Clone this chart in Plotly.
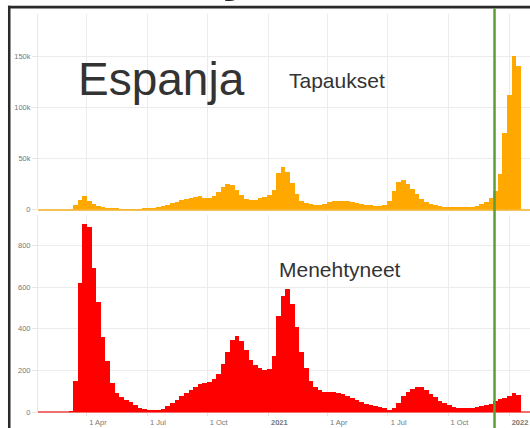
import pandas as pd
import plotly.graph_objects as go
from plotly.subplots import make_subplots

# weekly bins (start dates) for Spain, Jan 2020 - Jan 2022
week_start = pd.date_range("2020-01-22", periods=104, freq="7D")
week_mid = week_start + pd.Timedelta(hours=84)

# new cases per day (weekly level)
cases = [
    0, 0, 0, 0, 0, 0, 300, 4000, 9500, 13000,
    8000, 5000, 3000, 2000, 1200, 800, 500, 400, 350, 300,
    300, 400, 500, 700, 1200, 2000, 3000, 4500, 6000, 7500,
    9000, 10000, 11000, 12500, 13500, 11000, 11500, 13000, 17000, 22000,
    24500, 23500, 19000, 14000, 10500, 9500, 9500, 11000, 12500, 14000,
    19000, 36000, 42000, 37000, 26000, 15000, 8000, 6000, 5000, 4800,
    4800, 5500, 7000, 8000, 8500, 8500, 8000, 7000, 6000, 5000,
    4500, 4000, 3500, 3800, 4000, 8000, 18000, 27000, 29000, 25000,
    20000, 15000, 10500, 7500, 5500, 4000, 3000, 2500, 2200, 2000,
    2000, 2000, 2200, 2500, 3500, 5000, 7500, 11000, 18000, 35000,
    75000, 112000, 150000, 140000,
]

# new deaths per day (weekly level)
deaths = [
    0, 0, 0, 0, 0, 0, 5, 150, 620, 905,
    890, 690, 530, 360, 245, 140, 90, 70, 58, 48,
    35, 20, 14, 10, 9, 10, 16, 28, 42, 58,
    75, 90, 105, 118, 135, 140, 145, 158, 185, 230,
    290, 345, 365, 340, 300, 250, 225, 210, 200, 205,
    270, 460, 560, 590, 520, 410, 290, 210, 150, 120,
    105, 98, 95, 95, 93, 85, 75, 66, 57, 48,
    40, 33, 28, 25, 18, 12, 20, 45, 75, 98,
    112, 120, 118, 105, 88, 70, 55, 42, 32, 25,
    21, 19, 18, 20, 24, 28, 32, 38, 55, 62,
    68, 78, 90, 80,
]

tick_dates = ["2020-04-01", "2020-07-01", "2020-10-01", "2021-01-01",
              "2021-04-01", "2021-07-01", "2021-10-01", "2022-01-01"]
tick_labels = ["1 Apr", "1 Jul", "1 Oct", "<b>2021</b>",
               "1 Apr", "1 Jul", "1 Oct", "<b>2022</b>"]

cases_ticks = [0, 50000, 100000, 150000]
cases_tick_labels = ["0", "50k", "100k", "150k"]
deaths_ticks = [0, 200, 400, 600, 800]
deaths_tick_labels = ["0", "200", "400", "600", "800"]

marker_date = "2021-12-10"
x_range = ["2020-01-17 17:00", "2022-02-01 19:00"]

FONT = "Liberation Sans, Arial, sans-serif"
GRID = "#ececec"

fig = make_subplots(rows=2, cols=1, shared_xaxes=True)
fig.add_trace(go.Bar(x=week_mid, y=cases, width=7 * 86400000,
                     marker=dict(color="#FFA800", line=dict(width=0))),
              row=1, col=1)
fig.add_trace(go.Bar(x=week_mid, y=deaths, width=7 * 86400000,
                     marker=dict(color="#FF0000", line=dict(width=0))),
              row=2, col=1)

xcommon = dict(range=x_range, tickmode="array", tickvals=tick_dates,
               ticktext=tick_labels, showgrid=True, gridcolor=GRID,
               gridwidth=1, zeroline=False, showline=False, automargin=False)
fig.update_xaxes(**xcommon)
fig.update_yaxes(automargin=False)
fig.update_layout(
    width=530, height=428,
    margin=dict(l=38, r=0, t=14, b=16, autoexpand=False),
    plot_bgcolor="white", paper_bgcolor="white",
    showlegend=False, bargap=0,
    font=dict(family=FONT, color="#666"),
    xaxis=dict(showticklabels=False, ticks=""),
    xaxis2=dict(ticks="outside", ticklen=3, tickcolor="#e2e2e2",
                tickfont=dict(size=7.5, color="#777"), ticklabelshift=11,
                ticklabelstandoff=0),
    yaxis=dict(domain=[0.5088, 1.0], range=[0, 191200], tickmode="array",
               tickvals=cases_ticks, ticktext=cases_tick_labels,
               gridcolor=GRID, ticks="outside", ticklen=5, tickcolor="#e6e6e6",
               tickfont=dict(size=7.5, color="#777"), showline=True,
               linecolor="#e6e6e6", zeroline=True, zerolinecolor="#f3c25a",
               zerolinewidth=1.5),
    yaxis2=dict(domain=[0.0, 0.495], range=[0, 947], tickmode="array",
                tickvals=deaths_ticks, ticktext=deaths_tick_labels,
                gridcolor=GRID, ticks="outside", ticklen=5, tickcolor="#e6e6e6",
                tickfont=dict(size=7.5, color="#777"), showline=True,
                linecolor="#e6e6e6", zeroline=True, zerolinecolor="#f07070",
                zerolinewidth=1.5),
)

# frame lines (screenshot border) and the green marker line
fig.add_shape(type="rect", xref="paper", yref="paper",
              x0=-0.061, x1=1.02, y0=1.0138, y1=1.0205,
              fillcolor="#2a2a2a", line=dict(width=0), layer="above")
fig.add_shape(type="rect", xref="paper", yref="paper",
              x0=-0.061, x1=-0.0559, y0=-0.06, y1=1.0205,
              fillcolor="#2a2a2a", line=dict(width=0), layer="above")
fig.add_shape(type="line", xref="x2", yref="paper",
              x0=marker_date, x1=marker_date, y0=-0.06, y1=1.0138,
              line=dict(color="#5b9f35", width=2.5), layer="above")

ann = dict(xref="paper", yref="paper", showarrow=False, xanchor="left",
           yanchor="middle")
fig.add_annotation(text="Espanja", x=0.077, y=0.8367,
                   font=dict(family=FONT, color="#333", size=46), **ann)
fig.add_annotation(text="Tapaukset", x=0.506, y=0.834,
                   font=dict(family=FONT, color="#333", size=21), **ann)
fig.add_annotation(text="Menehtyneet", x=0.486, y=0.359,
                   font=dict(family=FONT, color="#333", size=21), **ann)
# descender of the page title above the screenshot, cut off at the top
fig.add_annotation(text="<b>j</b>", x=0.398, y=1.0251, xref="paper",
                   yref="paper", showarrow=False, xanchor="center",
                   yanchor="bottom",
                   font=dict(family=FONT, color="#222", size=60))

fig.write_html("out.html",
               config={"displayModeBar": False},
               post_script="document.body.style.margin='0';"
                           "document.body.style.overflow='hidden';")
